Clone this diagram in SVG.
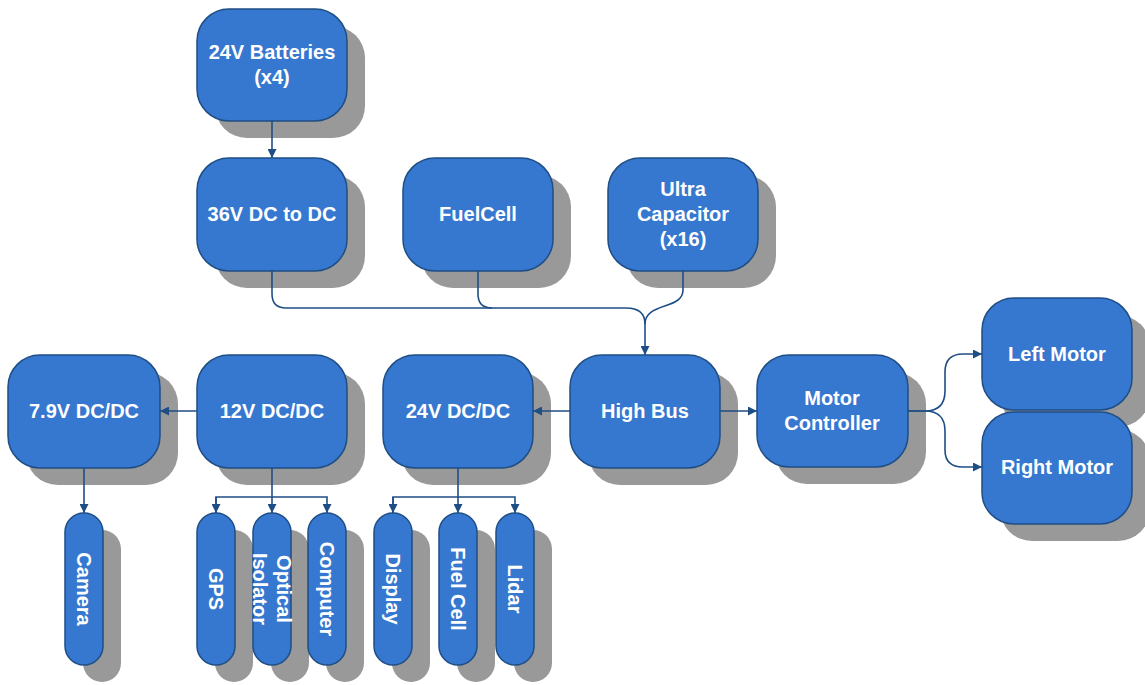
<svg xmlns="http://www.w3.org/2000/svg" width="1145" height="685" viewBox="0 0 1145 685">
<defs>
<marker id="ah" viewBox="0 0 10 10" refX="10" refY="5" markerWidth="9" markerHeight="9" markerUnits="userSpaceOnUse" orient="auto">
<path d="M0,0 L10,5 L0,10 z" fill="#1F4E85"/>
</marker>
<style>
.sh{fill:#999999;}
.bx{fill:#3677CF;stroke:#1F4E85;stroke-width:1.5;}
.t{font-family:"Liberation Sans",Arial,sans-serif;font-weight:bold;font-size:20px;fill:#FFFFFF;text-anchor:middle;}
.c{fill:none;stroke:#1F4E85;stroke-width:1.6;}
</style>
</defs>
<rect width="1145" height="685" fill="#FFFFFF"/>

<g id="batteries">
<rect class="sh" x="215" y="26" width="150" height="112" rx="32"/>
<rect class="bx" x="197" y="9" width="150" height="112" rx="32"/>
<text class="t" x="272" y="59">24V Batteries</text>
<text class="t" x="272" y="84">(x4)</text>
</g>
<g id="dc36">
<rect class="sh" x="215" y="175" width="150" height="113" rx="32"/>
<rect class="bx" x="197" y="158" width="150" height="113" rx="32"/>
<text class="t" x="272" y="221">36V DC to DC</text>
</g>
<g id="fuelcell">
<rect class="sh" x="421" y="175" width="150" height="113" rx="32"/>
<rect class="bx" x="403" y="158" width="150" height="113" rx="32"/>
<text class="t" x="478" y="221">FuelCell</text>
</g>
<g id="ultracap">
<rect class="sh" x="626" y="175" width="150" height="113" rx="32"/>
<rect class="bx" x="608" y="158" width="150" height="113" rx="32"/>
<text class="t" x="683" y="196">Ultra</text>
<text class="t" x="683" y="221">Capacitor</text>
<text class="t" x="683" y="246">(x16)</text>
</g>

<g id="dc79">
<rect class="sh" x="26" y="372" width="152" height="113" rx="32"/>
<rect class="bx" x="8" y="355" width="152" height="113" rx="32"/>
<text class="t" x="84" y="418">7.9V DC/DC</text>
</g>
<g id="dc12">
<rect class="sh" x="215" y="372" width="150" height="113" rx="32"/>
<rect class="bx" x="197" y="355" width="150" height="113" rx="32"/>
<text class="t" x="272" y="418">12V DC/DC</text>
</g>
<g id="dc24">
<rect class="sh" x="401" y="372" width="150" height="113" rx="32"/>
<rect class="bx" x="383" y="355" width="150" height="113" rx="32"/>
<text class="t" x="458" y="418">24V DC/DC</text>
</g>
<g id="highbus">
<rect class="sh" x="588" y="372" width="150" height="113" rx="32"/>
<rect class="bx" x="570" y="355" width="150" height="113" rx="32"/>
<text class="t" x="645" y="418">High Bus</text>
</g>
<g id="motorctrl">
<rect class="sh" x="775" y="372" width="151" height="112" rx="32"/>
<rect class="bx" x="757" y="355" width="151" height="112" rx="32"/>
<text class="t" x="832" y="405">Motor</text>
<text class="t" x="832" y="430">Controller</text>
</g>
<g id="leftmotor">
<rect class="sh" x="1000" y="315" width="150" height="112" rx="32"/>
<rect class="bx" x="982" y="298" width="150" height="112" rx="32"/>
<text class="t" x="1057" y="361">Left Motor</text>
</g>
<g id="rightmotor">
<rect class="sh" x="1000" y="429" width="150" height="112" rx="32"/>
<rect class="bx" x="982" y="412" width="150" height="112" rx="32"/>
<text class="t" x="1057" y="474">Right Motor</text>
</g>

<g id="camera">
<rect class="sh" x="83" y="530" width="38" height="152" rx="19"/>
<rect class="bx" x="65" y="513" width="38" height="152" rx="19"/>
<text class="t" transform="translate(84,589) rotate(90)" y="7">Camera</text>
</g>
<g id="gps">
<rect class="sh" x="215" y="530" width="38" height="152" rx="19"/>
<rect class="bx" x="197" y="513" width="38" height="152" rx="19"/>
<text class="t" transform="translate(216,589) rotate(90)" y="7">GPS</text>
</g>
<g id="optical">
<rect class="sh" x="271" y="530" width="38" height="152" rx="19"/>
<rect class="bx" x="253" y="513" width="38" height="152" rx="19"/>
<text class="t" transform="translate(272,589) rotate(90)" y="-5">Optical</text>
<text class="t" transform="translate(272,589) rotate(90)" y="19">Isolator</text>
</g>
<g id="computer">
<rect class="sh" x="326" y="530" width="38" height="152" rx="19"/>
<rect class="bx" x="308" y="513" width="38" height="152" rx="19"/>
<text class="t" transform="translate(327,589) rotate(90)" y="7">Computer</text>
</g>
<g id="display">
<rect class="sh" x="392" y="530" width="38" height="152" rx="19"/>
<rect class="bx" x="374" y="513" width="38" height="152" rx="19"/>
<text class="t" transform="translate(393,589) rotate(90)" y="7">Display</text>
</g>
<g id="fuelcell2">
<rect class="sh" x="457" y="530" width="38" height="152" rx="19"/>
<rect class="bx" x="439" y="513" width="38" height="152" rx="19"/>
<text class="t" transform="translate(458,589) rotate(90)" y="7">Fuel Cell</text>
</g>
<g id="lidar">
<rect class="sh" x="514" y="530" width="38" height="152" rx="19"/>
<rect class="bx" x="496" y="513" width="38" height="152" rx="19"/>
<text class="t" transform="translate(515,589) rotate(90)" y="7">Lidar</text>
</g>

<g id="connectors">
<path class="c" d="M272,121 V158" marker-end="url(#ah)"/>
<path class="c" d="M272,271 V294 Q272,308 286,308 H626 Q645,308 645,324 V355" marker-end="url(#ah)"/>
<path class="c" d="M478,271 V294 Q478,308 492,308"/>
<path class="c" d="M683,271 V290 C683,310 645,302 645,324"/>
<path class="c" d="M570,411 H533" marker-end="url(#ah)"/>
<path class="c" d="M720,411 H757" marker-end="url(#ah)"/>
<path class="c" d="M197,411 H160" marker-end="url(#ah)"/>
<path class="c" d="M908,411 H925 Q945,411 945,391 V372 Q945,354 963,354 H982" marker-end="url(#ah)"/>
<path class="c" d="M908,411 H925 Q945,411 945,431 V450 Q945,467 963,467 H982" marker-end="url(#ah)"/>
<path class="c" d="M84,468 V513" marker-end="url(#ah)"/>
<path class="c" d="M272,468 V513" marker-end="url(#ah)"/>
<path class="c" d="M216,513 V497 H327 V513" marker-end="url(#ah)"/>
<path class="c" d="M216,497 V513" marker-end="url(#ah)"/>
<path class="c" d="M458,468 V513" marker-end="url(#ah)"/>
<path class="c" d="M393,513 V497 H515 V513" marker-end="url(#ah)"/>
<path class="c" d="M393,497 V513" marker-end="url(#ah)"/>
</g>
</svg>
